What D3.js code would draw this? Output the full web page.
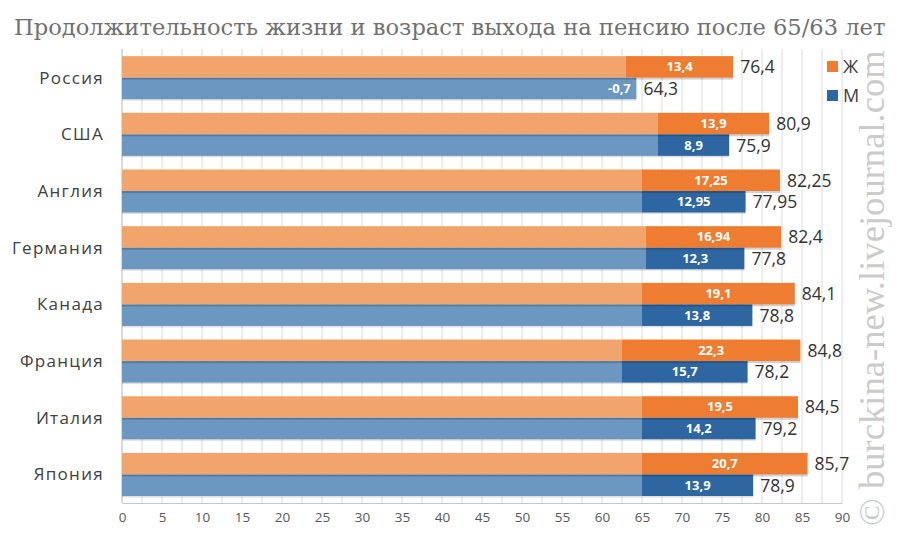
<!DOCTYPE html>
<html><head><meta charset="utf-8">
<script src="https://cdn.jsdelivr.net/npm/d3@7"></script>
<style>
body{margin:0;background:#fff;}
svg{display:block;}
</style></head>
<body>
<svg id="c" width="900" height="540"></svg>
<script>
const countries = ["Россия","США","Англия","Германия","Канада","Франция","Италия","Япония"];
const femaleRetire = [63,67,65,65.46,65,62.5,65,65];
const femaleYears = [13.4,13.9,17.25,16.94,19.1,22.3,19.5,20.7];
const femaleTotal = [76.4,80.9,82.25,82.4,84.1,84.8,84.5,85.7];
const maleRetire = [65,67,65,65.5,65,62.5,65,65];
const maleYears = [-0.7,8.9,12.95,12.3,13.8,15.7,14.2,13.9];
const maleTotal = [64.3,75.9,77.95,77.8,78.8,78.2,79.2,78.9];
const xTicks = d3.range(0, 91, 5);
const gridVals = d3.range(0, 90.1, 2.5);
const legendLabels = ["Ж","М"];
const title = "Продолжительность жизни и возраст выхода на пенсию после 65/63 лет";
const watermark = "© burckina-new.livejournal.com";

const fmt = v => String(v).replace(".", ",");
const C = {lo:"#F1A56D", do:"#EE7D31", lb:"#6B97C0", db:"#2E66A1"};

const svg = d3.select("#c");
const x = d3.scaleLinear().domain([0,90]).range([122,842]);
const y = d3.scaleBand().domain(countries).range([49.3,502.8]).paddingInner(0.24).paddingOuter(0.12);
const bh = y.bandwidth()/2;

// gridlines
svg.append("g").selectAll("line").data(gridVals).join("line")
  .attr("x1", d=>x(d)).attr("x2", d=>x(d)).attr("y1", 49).attr("y2", 503)
  .attr("stroke", "#dcdcdc").attr("stroke-width", 1);

// axis
const ax = svg.append("g").attr("transform","translate(0,503)")
  .call(d3.axisBottom(x).tickValues(xTicks).tickSize(0).tickPadding(9).tickFormat(d=>d));
ax.select(".domain").attr("stroke","#c8c8c8");
ax.selectAll("text").attr("font-family","'Open Sans', sans-serif").attr("font-size",13.5).attr("fill","#595959");
svg.append("line").attr("x1",x(0)).attr("x2",x(0)).attr("y1",49).attr("y2",503).attr("stroke","#c8c8c8");

const g = svg.append("g");
countries.forEach((c,i)=>{
  const y0 = y(c), y1 = y0 + bh;
  // female
  g.append("rect").attr("x",x(0)).attr("y",y0).attr("width",x(femaleRetire[i])-x(0)).attr("height",bh).attr("fill",C.lo);
  g.append("rect").attr("x",x(femaleRetire[i])).attr("y",y0).attr("width",x(femaleTotal[i])-x(femaleRetire[i])).attr("height",bh).attr("fill",C.do);
  // male
  const mEnd = maleTotal[i];
  const mBase = Math.min(maleRetire[i], mEnd);
  g.append("rect").attr("x",x(0)).attr("y",y1).attr("width",x(mBase)-x(0)).attr("height",bh).attr("fill",C.lb);
  if (maleYears[i] > 0)
    g.append("rect").attr("x",x(maleRetire[i])).attr("y",y1).attr("width",x(mEnd)-x(maleRetire[i])).attr("height",bh).attr("fill",C.db);
  // shadow under bars
  g.append("rect").attr("x",x(0)).attr("y",y1).attr("width",x(femaleTotal[i])-x(0)).attr("height",2).attr("fill","rgba(0,0,0,0.18)");
  g.append("rect").attr("x",x(0)).attr("y",y1+bh).attr("width",x(mEnd)-x(0)).attr("height",1.5).attr("fill","rgba(0,0,0,0.12)");

  // inner labels
  g.append("text").attr("x",(x(femaleRetire[i])+x(femaleTotal[i]))/2).attr("y",y0+bh/2+4.5)
    .attr("text-anchor","middle").attr("font-family","'Open Sans', sans-serif").attr("font-weight","bold")
    .attr("font-size",13).attr("fill","#fff").text(fmt(femaleYears[i]));
  const mx = maleYears[i] > 0 ? (x(maleRetire[i])+x(mEnd))/2 : x(mEnd)-17;
  g.append("text").attr("x",mx).attr("y",y1+bh/2+4.5)
    .attr("text-anchor","middle").attr("font-family","'Open Sans', sans-serif").attr("font-weight","bold")
    .attr("font-size",13).attr("fill","#fff").text(fmt(maleYears[i]));

  // totals
  g.append("text").attr("x",x(femaleTotal[i])+7).attr("y",y0+bh/2+6.5)
    .attr("font-family","'Open Sans', sans-serif").attr("font-size",17.5).attr("fill","#333").text(fmt(femaleTotal[i]));
  g.append("text").attr("x",x(mEnd)+7).attr("y",y1+bh/2+6.5)
    .attr("font-family","'Open Sans', sans-serif").attr("font-size",17.5).attr("fill","#333").text(fmt(mEnd));

  // category labels
  svg.append("text").attr("x",104).attr("y",y0+bh+6).attr("text-anchor","end")
    .attr("font-family","'Open Sans', sans-serif").attr("font-size",17).attr("letter-spacing",1.3)
    .attr("fill","#404040").text(c);
});

// legend
const lg = svg.append("g");
[C.do, C.db].forEach((col,i)=>{
  lg.append("rect").attr("x",827).attr("y",61+i*29).attr("width",11).attr("height",11).attr("fill",col);
  lg.append("text").attr("x",843).attr("y",73+i*29).attr("font-family","'Open Sans', sans-serif")
    .attr("font-size",18).attr("fill","#404040").text(legendLabels[i]);
});

// title
const t = svg.append("text").attr("x",14).attr("y",35).attr("font-family","'DejaVu Serif', serif")
  .attr("font-size",24).attr("fill","#707070").text(title);
const tl = t.node().getComputedTextLength();
t.attr("font-size", 24*872/tl);

// watermark
const w = svg.append("text").attr("transform","translate(884,526) rotate(-90)")
  .attr("font-family","'Liberation Serif', serif").attr("font-size",30).attr("fill","#cbcbcb").text(watermark);
const wl = w.node().getComputedTextLength();
w.attr("font-size", 30*476/wl);
</script>
</body></html>
